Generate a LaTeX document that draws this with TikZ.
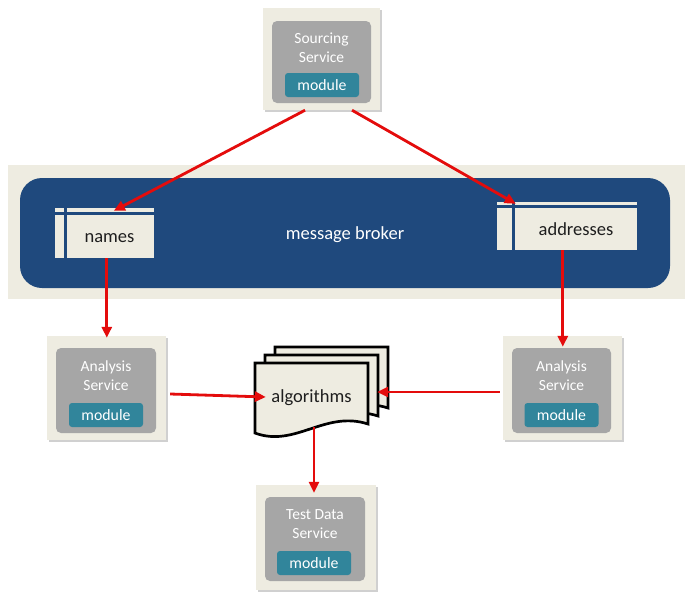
\documentclass[tikz,border=0pt]{standalone}
\usepackage{fontspec}
\setmainfont{Carlito}
\usetikzlibrary{arrows.meta,shadows,calc}
\definecolor{bgc}{RGB}{238,236,225}
\definecolor{innerc}{RGB}{166,166,166}
\definecolor{tealc}{RGB}{49,133,155}
\definecolor{navyc}{RGB}{31,73,125}
\definecolor{arrc}{RGB}{228,12,12}
\definecolor{txtc}{RGB}{30,30,30}
\tikzset{
  outerbox/.style={rectangle, fill=bgc, inner sep=0pt,
    drop shadow={shadow xshift=2pt, shadow yshift=-2pt, opacity=0.3, fill=black!60}},
  innerbox/.style={rectangle, fill=innerc, rounded corners=5pt, inner sep=0pt},
  modbox/.style={rectangle, fill=tealc, rounded corners=3pt, text=white,
    font=\fontsize{15.8}{18}\selectfont, minimum width=74pt, minimum height=24pt, inner sep=0pt},
  svctext/.style={text=white, align=center, font=\fontsize{15.5}{19}\selectfont},
  tablebox/.style={rectangle, fill=bgc, inner sep=0pt},
  tabline/.style={draw=navyc, line width=3pt},
  bigtext/.style={font=\fontsize{18.5}{21}\selectfont},
  docpath/.style={fill=bgc, draw=black, line width=2.7pt},
  conn/.style={draw=arrc, line width=2.8pt, -{Triangle[length=11pt,width=10pt]}}
}
\begin{document}
\begin{tikzpicture}[x=1pt,y=-1pt]
\useasboundingbox (0,0) rectangle (695,600);
\fill[white] (0,0) rectangle (695,600);

% message broker
\node[rectangle, fill=bgc, minimum width=677pt, minimum height=134pt, inner sep=0pt] (band) at (346.5,232) {};
\node[rectangle, fill=navyc, rounded corners=22pt, minimum width=650pt, minimum height=110pt, inner sep=0pt] (broker) at (345,233) {};
\node[bigtext, text=white] (brokertxt) at (345,235) {message broker};

% names table
\node[tablebox, minimum width=99pt, minimum height=50pt] (names) at (104.5,233) {};
\draw[tabline] ($(names.north west)+(0,5.5)$) -- ($(names.north east)+(0,5.5)$);
\draw[tabline] ($(names.north west)+(10.5,0)$) -- ($(names.south west)+(10.5,0)$);
\node[bigtext, text=txtc] (namestxt) at (109.5,238) {names};

% addresses table
\node[tablebox, minimum width=140pt, minimum height=48pt] (addr) at (567,226) {};
\draw[tabline, line width=2.5pt] ($(addr.north west)+(0,4.5)$) -- ($(addr.north east)+(0,4.5)$);
\draw[tabline] ($(addr.north west)+(16.5,0)$) -- ($(addr.south west)+(16.5,0)$);
\node[bigtext, text=txtc] (addrtxt) at (576,229) {addresses};

% Sourcing Service
\node[outerbox, minimum width=117pt, minimum height=102pt] (src) at (321.5,59) {};
\node[innerbox, minimum width=99pt, minimum height=82pt] (srcin) at (321.5,62) {};
\node[svctext] (srctxt) at (321.5,47.5) {Sourcing\\Service};
\node[modbox] (srcmod) at (322,85) {module};

% Analysis Service left
\node[outerbox, minimum width=119pt, minimum height=104pt] (anl) at (106.5,388) {};
\node[innerbox, minimum width=100pt, minimum height=85pt] (anlin) at (106,390.5) {};
\node[svctext] (anltxt) at (106,375.5) {Analysis\\Service};
\node[modbox] (anlmod) at (106,415) {module};

% Analysis Service right
\node[outerbox, minimum width=119pt, minimum height=104pt] (anr) at (562.5,388) {};
\node[innerbox, minimum width=99pt, minimum height=85pt] (anrin) at (561.5,390.5) {};
\node[svctext] (anrtxt) at (561.5,375.5) {Analysis\\Service};
\node[modbox] (anrmod) at (561.5,415) {module};

% Test Data Service
\node[outerbox, minimum width=120pt, minimum height=105pt] (td) at (316,537.5) {};
\node[innerbox, minimum width=100pt, minimum height=84pt] (tdin) at (315,539) {};
\node[svctext] (tdtxt) at (315,524.5) {Test Data\\Service};
\node[modbox] (tdmod) at (314,563) {module};

% algorithms documents
\begin{scope}[shift={(20,-16)}]
\draw[docpath] (255,363) -- (368,363) -- (368,424) .. controls (325,410) and (295,448) .. (255,433) -- cycle;
\end{scope}
\begin{scope}[shift={(10,-8)}]
\draw[docpath] (255,363) -- (368,363) -- (368,424) .. controls (325,410) and (295,448) .. (255,433) -- cycle;
\end{scope}
\draw[docpath] (255,363) -- (368,363) -- (368,424) .. controls (325,410) and (295,448) .. (255,433) -- cycle;
\node[bigtext, text=txtc, minimum width=113pt, minimum height=70pt, inner sep=0pt] (alg) at (311.5,398) {algorithms};

% connectors
\draw[conn] ($(src.south west)!0.36!(src.south east)$) -- ($(names.north west)+(59,3)$);
\draw[conn] ($(src.south west)!0.76!(src.south east)$) -- ($(addr.north west)+(19,2)$);
\draw[conn] ($(names.south west)+(52,0)$) -- ($(anl.north west)+(60,2)$);
\draw[conn] ($(addr.south west)+(66,0)$) -- ($(anr.north west)+(60,11)$);
\draw[conn] ($(anl.east)+(4,6)$) -- ($(alg.west)+(11,-1)$);
\draw[conn] ($(anr.west)+(-3,4)$) -- ($(alg.east)+(9,-6)$);
\draw[conn] ($(alg.south)+(2.5,-6)$) -- ($(td.north)+(-2,8)$);
\end{tikzpicture}
\end{document}
